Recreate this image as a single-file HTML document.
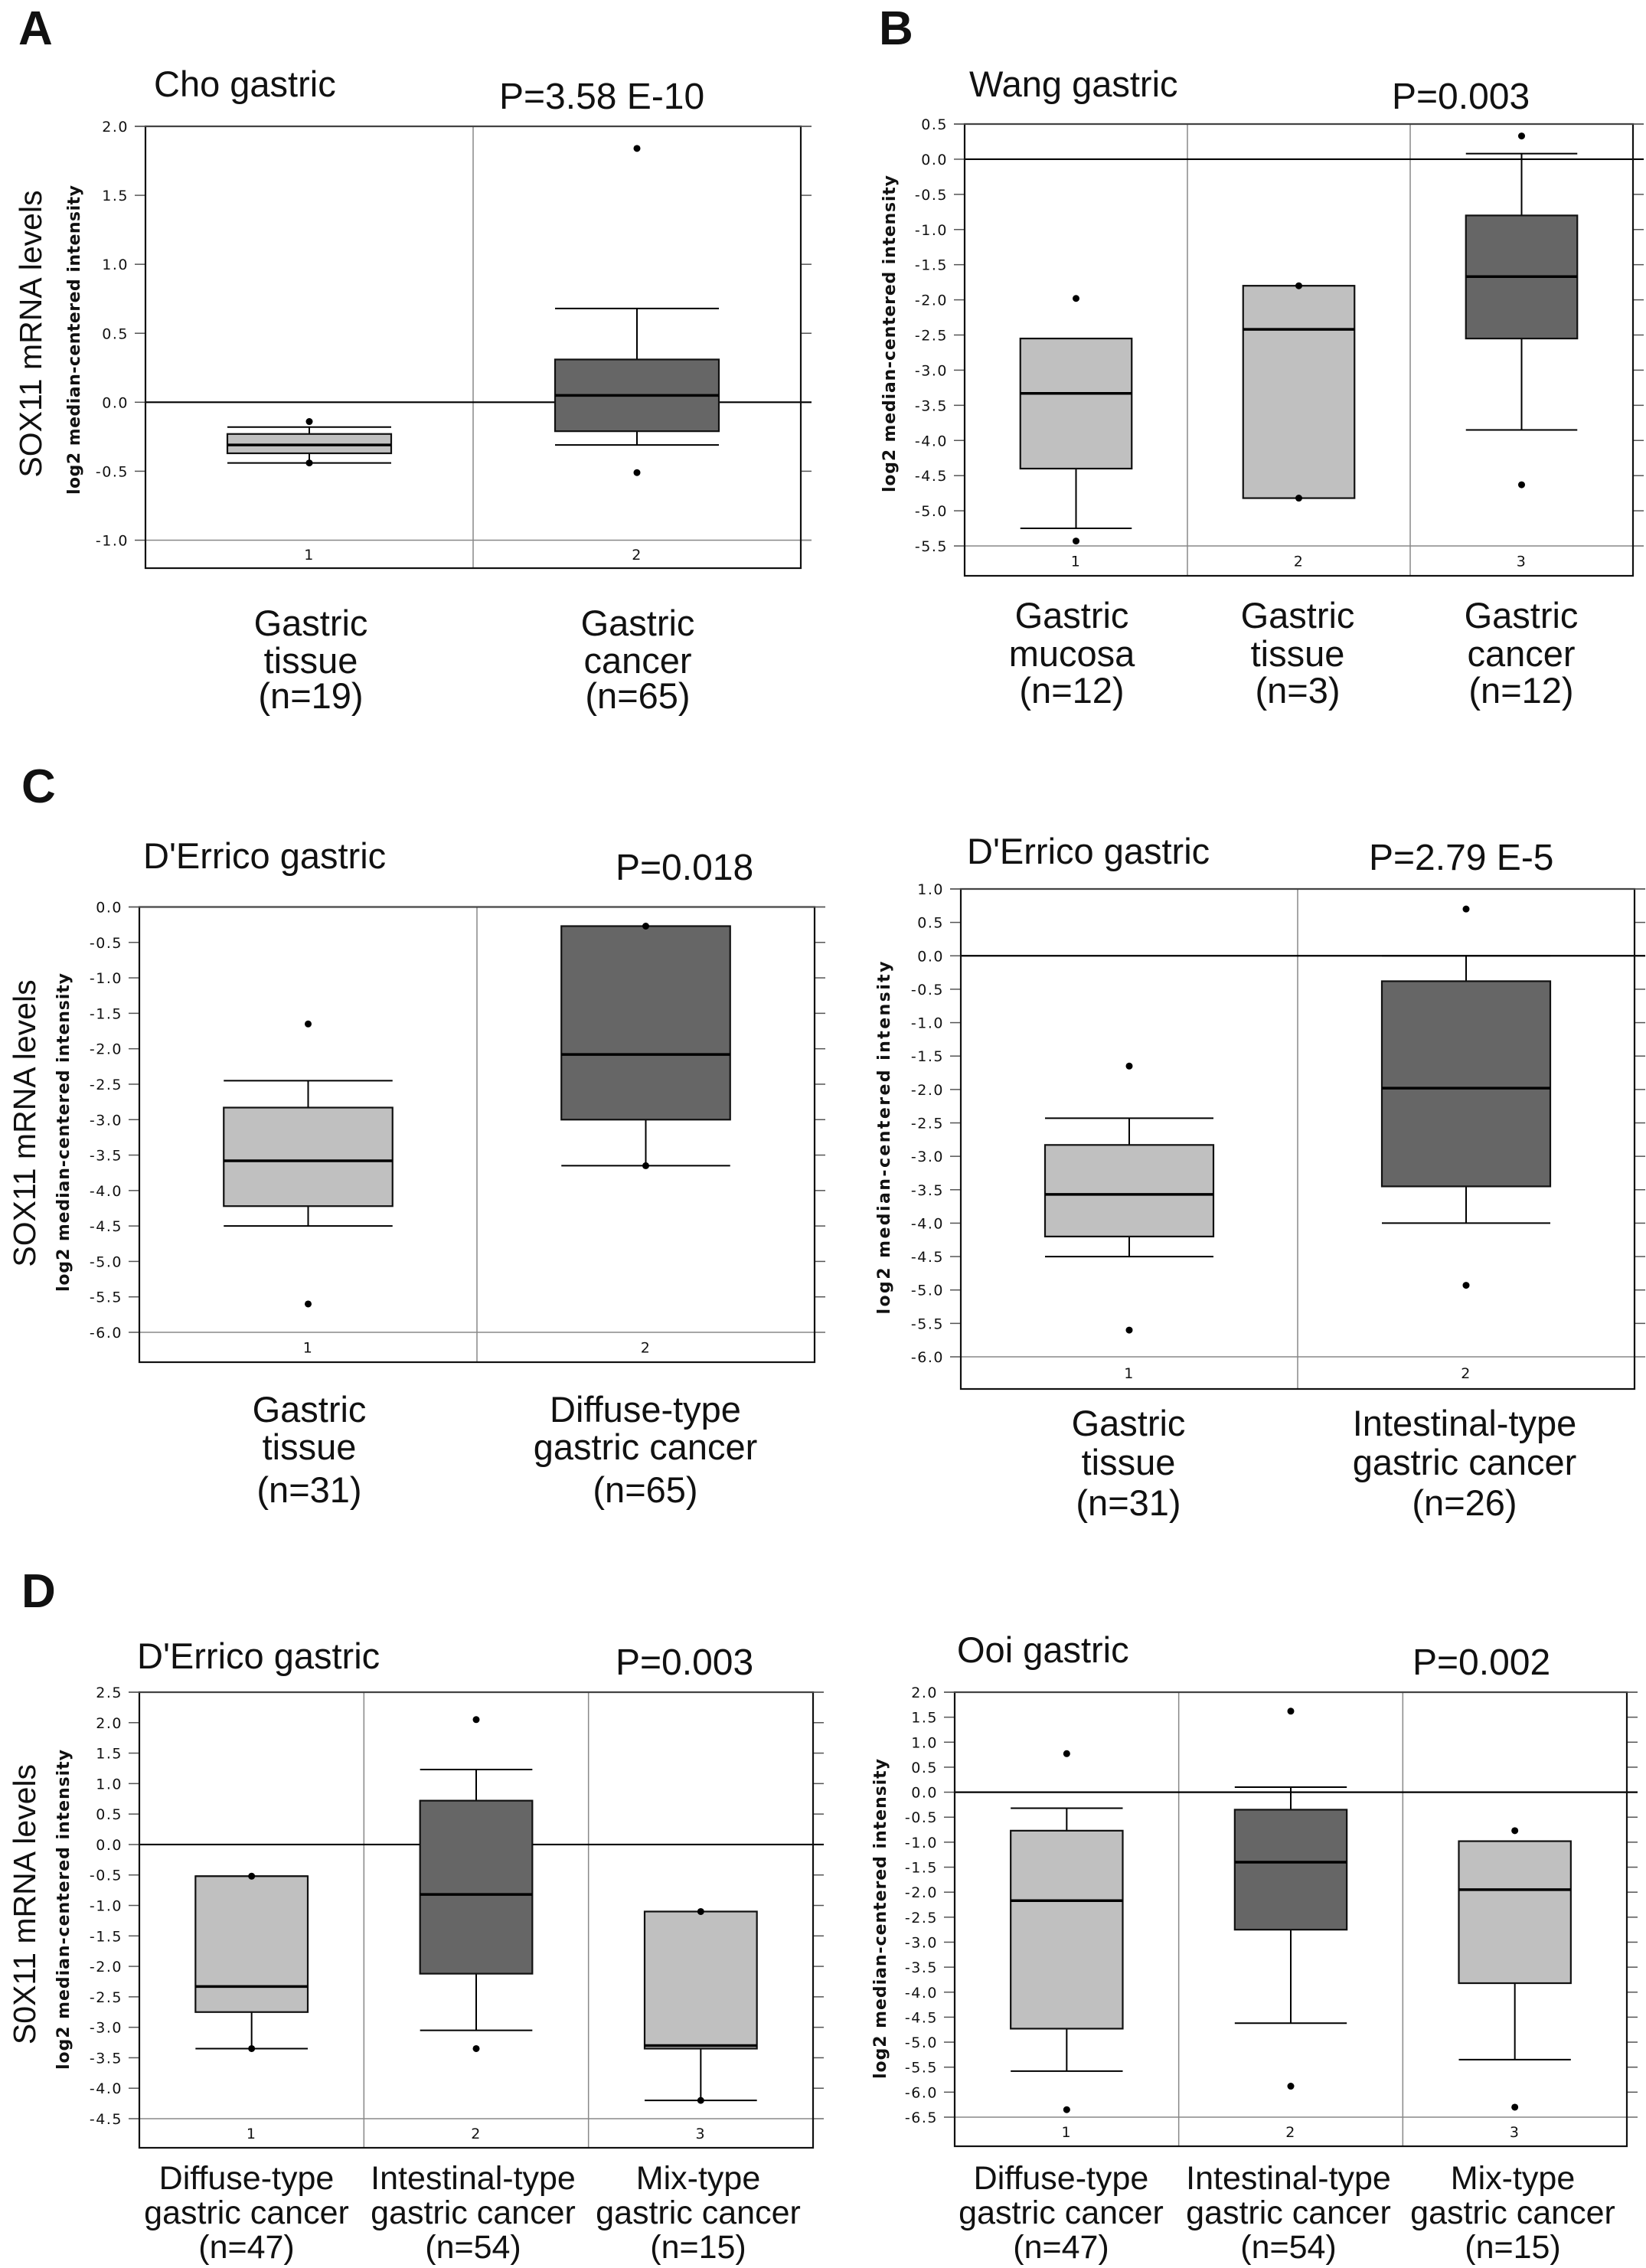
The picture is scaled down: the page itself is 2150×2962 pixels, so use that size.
<!DOCTYPE html>
<html><head><meta charset="utf-8"><style>
html,body{margin:0;padding:0;background:#fff}
svg{display:block}
.t{font-family:"Liberation Sans",Arial,sans-serif;fill:#111}
.tk{font-family:"DejaVu Sans",sans-serif;font-size:19px;fill:#111;letter-spacing:1.5px}
.yl{font-family:"DejaVu Sans",sans-serif;font-size:22px;font-weight:bold;fill:#111}
</style></head><body>
<svg id="fig" width="2150" height="2962" viewBox="0 0 2150 2962" xmlns="http://www.w3.org/2000/svg">
<rect width="2150" height="2962" fill="#fff"/>
<text class="t" x="24" y="58" font-size="62" font-weight="bold">A</text>
<text class="t" x="1148" y="58" font-size="62" font-weight="bold">B</text>
<text class="t" x="28" y="1048" font-size="62" font-weight="bold">C</text>
<text class="t" x="28" y="2099" font-size="62" font-weight="bold">D</text>

<text class="t" x="201" y="126" font-size="47">Cho gastric</text>
<text class="t" x="652" y="142" font-size="48">P=3.58 E-10</text>
<text class="t" transform="translate(54,436) rotate(-90)" text-anchor="middle" font-size="41">SOX11 mRNA levels</text>
<text class="yl" transform="translate(104,444) rotate(-90)" text-anchor="middle" textLength="404">log2 median-centered intensity</text>
<g class="t" font-size="47" text-anchor="middle">
<text x="406" y="830">Gastric</text><text x="406" y="879">tissue</text><text x="406" y="925">(n=19)</text>
<text x="833" y="830">Gastric</text><text x="833" y="879">cancer</text><text x="833" y="925">(n=65)</text>
</g>

<text class="t" x="1266" y="126" font-size="47">Wang gastric</text>
<text class="t" x="1818" y="142" font-size="48">P=0.003</text>
<text class="yl" transform="translate(1169,436) rotate(-90)" text-anchor="middle" textLength="414">log2 median-centered intensity</text>
<g class="t" font-size="47" text-anchor="middle">
<text x="1400" y="820">Gastric</text><text x="1400" y="870">mucosa</text><text x="1400" y="918">(n=12)</text>
<text x="1695" y="820">Gastric</text><text x="1695" y="870">tissue</text><text x="1695" y="918">(n=3)</text>
<text x="1987" y="820">Gastric</text><text x="1987" y="870">cancer</text><text x="1987" y="918">(n=12)</text>
</g>

<text class="t" x="187" y="1134" font-size="47">D'Errico gastric</text>
<text class="t" x="804" y="1149" font-size="48">P=0.018</text>
<text class="t" transform="translate(46,1467) rotate(-90)" text-anchor="middle" font-size="41">SOX11 mRNA levels</text>
<text class="yl" transform="translate(90,1479) rotate(-90)" text-anchor="middle" textLength="416">log2 median-centered intensity</text>
<g class="t" font-size="47" text-anchor="middle">
<text x="404" y="1857">Gastric</text><text x="404" y="1906">tissue</text><text x="404" y="1962">(n=31)</text>
<text x="843" y="1857">Diffuse-type</text><text x="843" y="1906">gastric cancer</text><text x="843" y="1962">(n=65)</text>
</g>

<text class="t" x="1263" y="1128" font-size="47">D'Errico gastric</text>
<text class="t" x="1788" y="1136" font-size="48">P=2.79 E-5</text>
<text class="yl" transform="translate(1162,1486) rotate(-90)" text-anchor="middle" textLength="461">log2 median-centered intensity</text>
<g class="t" font-size="47" text-anchor="middle">
<text x="1474" y="1875">Gastric</text><text x="1474" y="1926">tissue</text><text x="1474" y="1979">(n=31)</text>
<text x="1913" y="1875">Intestinal-type</text><text x="1913" y="1926">gastric cancer</text><text x="1913" y="1979">(n=26)</text>
</g>

<text class="t" x="179" y="2179" font-size="47">D'Errico gastric</text>
<text class="t" x="804" y="2187" font-size="48">P=0.003</text>
<text class="t" transform="translate(46,2487) rotate(-90)" text-anchor="middle" font-size="41">S0X11 mRNA levels</text>
<text class="yl" transform="translate(90,2494) rotate(-90)" text-anchor="middle" textLength="418">log2 median-centered intensity</text>
<g class="t" font-size="43" text-anchor="middle">
<text x="322" y="2859">Diffuse-type</text><text x="322" y="2904">gastric cancer</text><text x="322" y="2949">(n=47)</text>
<text x="618" y="2859">Intestinal-type</text><text x="618" y="2904">gastric cancer</text><text x="618" y="2949">(n=54)</text>
<text x="912" y="2859">Mix-type</text><text x="912" y="2904">gastric cancer</text><text x="912" y="2949">(n=15)</text>
</g>

<text class="t" x="1250" y="2171" font-size="47">Ooi gastric</text>
<text class="t" x="1845" y="2187" font-size="48">P=0.002</text>
<text class="yl" transform="translate(1157,2506) rotate(-90)" text-anchor="middle" textLength="418">log2 median-centered intensity</text>
<g class="t" font-size="43" text-anchor="middle">
<text x="1386" y="2859">Diffuse-type</text><text x="1386" y="2904">gastric cancer</text><text x="1386" y="2949">(n=47)</text>
<text x="1683" y="2859">Intestinal-type</text><text x="1683" y="2904">gastric cancer</text><text x="1683" y="2949">(n=54)</text>
<text x="1976" y="2859">Mix-type</text><text x="1976" y="2904">gastric cancer</text><text x="1976" y="2949">(n=15)</text>
</g>
</svg>
<script>
const aCategories=["1","2"];
const aQ1=[-0.37,-0.21];
const aQ3=[-0.23,0.31];
const aMedian=[-0.31,0.05];
const aWhiskerLo=[-0.44,-0.31];
const aWhiskerHi=[-0.18,0.68];
const aOutliers=[[-0.14,-0.44],[1.84,-0.51]];
const aDark=[false,true];
const aTicks=["2.0","1.5","1.0","0.5","0.0","-0.5","-1.0"];
const bCategories=["1","2","3"];
const bQ1=[-4.40,-4.82,-2.55];
const bQ3=[-2.55,-1.80,-0.80];
const bMedian=[-3.33,-2.42,-1.67];
const bWhiskerLo=[-5.25,-4.82,-3.85];
const bWhiskerHi=[-2.55,-1.80,0.08];
const bOutliers=[[-1.98,-5.43],[-1.80,-4.82],[0.33,-4.63]];
const bDark=[false,false,true];
const bTicks=["0.5","0.0","-0.5","-1.0","-1.5","-2.0","-2.5","-3.0","-3.5","-4.0","-4.5","-5.0","-5.5"];
const c1Categories=["1","2"];
const c1Q1=[-4.22,-3.00];
const c1Q3=[-2.83,-0.27];
const c1Median=[-3.58,-2.08];
const c1WhiskerLo=[-4.50,-3.65];
const c1WhiskerHi=[-2.45,-0.27];
const c1Outliers=[[-1.65,-5.60],[-0.27,-3.65]];
const c1Dark=[false,true];
const c1Ticks=["0.0","-0.5","-1.0","-1.5","-2.0","-2.5","-3.0","-3.5","-4.0","-4.5","-5.0","-5.5","-6.0"];
const c2Categories=["1","2"];
const c2Q1=[-4.20,-3.45];
const c2Q3=[-2.83,-0.38];
const c2Median=[-3.57,-1.98];
const c2WhiskerLo=[-4.50,-4.00];
const c2WhiskerHi=[-2.43,0.00];
const c2Outliers=[[-1.65,-5.60],[0.70,-4.93]];
const c2Dark=[false,true];
const c2Ticks=["1.0","0.5","0.0","-0.5","-1.0","-1.5","-2.0","-2.5","-3.0","-3.5","-4.0","-4.5","-5.0","-5.5","-6.0"];
const d1Categories=["1","2","3"];
const d1Q1=[-2.75,-2.12,-3.35];
const d1Q3=[-0.52,0.72,-1.10];
const d1Median=[-2.33,-0.82,-3.30];
const d1WhiskerLo=[-3.35,-3.05,-4.20];
const d1WhiskerHi=[-0.52,1.23,-1.10];
const d1Outliers=[[-0.52,-3.35],[2.05,-3.35],[-1.10,-4.20]];
const d1Dark=[false,true,false];
const d1Ticks=["2.5","2.0","1.5","1.0","0.5","0.0","-0.5","-1.0","-1.5","-2.0","-2.5","-3.0","-3.5","-4.0","-4.5"];
const d2Categories=["1","2","3"];
const d2Q1=[-4.73,-2.75,-3.82];
const d2Q3=[-0.77,-0.35,-0.98];
const d2Median=[-2.17,-1.40,-1.95];
const d2WhiskerLo=[-5.58,-4.62,-5.35];
const d2WhiskerHi=[-0.32,0.10,-0.98];
const d2Outliers=[[0.77,-6.35],[1.62,-5.88],[-0.77,-6.30]];
const d2Dark=[false,true,false];
const d2Ticks=["2.0","1.5","1.0","0.5","0.0","-0.5","-1.0","-1.5","-2.0","-2.5","-3.0","-3.5","-4.0","-4.5","-5.0","-5.5","-6.0","-6.5"];

const NS="http://www.w3.org/2000/svg";
const svg=document.getElementById('fig');
function mk(tag,attrs,parent){const e=document.createElementNS(NS,tag);for(const k in attrs)e.setAttribute(k,attrs[k]);(parent||svg).appendChild(e);return e;}

function panel(id,frame,cats,q1,q3,med,wlo,whi,outs,dark,ticks){
  const g=mk('g',{});
  
  
  const vTop=parseFloat(ticks[0]), vBot=parseFloat(ticks[ticks.length-1]);
  const y=v=>frame.yTop+(vTop-v)/(vTop-vBot)*(frame.yBot-frame.yTop);
  const n=cats.length, w=(frame.x1-frame.x0)/n;
  const cx=i=>frame.x0+(i+0.5)*w;
  const hw=w*0.25;
  ticks.forEach(t=>{
    const v=parseFloat(t), yy=y(v);
    const tl=mk('line',{x1:frame.x0-14,x2:frame.x0,y1:yy,y2:yy,stroke:'#555','stroke-width':1.5},g);
    
    
    const tr=mk('line',{x1:frame.x1,x2:frame.x1+14,y1:yy,y2:yy,stroke:'#555','stroke-width':1.5},g);
    
    
    const tx=mk('text',{x:frame.x0-22,y:yy+7,'text-anchor':'end','class':'tk'},g);
    tx.textContent=t;
    
    
  });
  const bl=mk('line',{x1:frame.x0,x2:frame.x1+14,y1:y(vBot),y2:y(vBot),stroke:'#888','stroke-width':1.5},g);
  
  
  for(let i=1;i<n;i++){
    const s=mk('line',{x1:frame.x0+i*w,x2:frame.x0+i*w,y1:frame.y0,y2:frame.y1,stroke:'#888','stroke-width':1.5},g);
    
    
  }
  if(vTop>0 && vBot<0){
    const z=mk('line',{x1:frame.x0,x2:frame.x1+14,y1:y(0),y2:y(0),stroke:'#000','stroke-width':2.2},g);
    
    
  }
  cats.forEach((c,i)=>{
    const x=cx(i);
    const bg=mk('g',{},g);
    
    
    mk('line',{x1:x,x2:x,y1:y(q3[i]),y2:y(whi[i]),stroke:'#000','stroke-width':2},bg);
    mk('line',{x1:x,x2:x,y1:y(q1[i]),y2:y(wlo[i]),stroke:'#000','stroke-width':2},bg);
    mk('line',{x1:x-hw,x2:x+hw,y1:y(whi[i]),y2:y(whi[i]),stroke:'#000','stroke-width':2},bg);
    mk('line',{x1:x-hw,x2:x+hw,y1:y(wlo[i]),y2:y(wlo[i]),stroke:'#000','stroke-width':2},bg);
    mk('rect',{x:x-hw,y:y(q3[i]),width:2*hw,height:Math.max(1,y(q1[i])-y(q3[i])),fill:dark[i]?'#666':'#c0c0c0',stroke:'#111','stroke-width':2.2},bg);
    mk('line',{x1:x-hw,x2:x+hw,y1:y(med[i]),y2:y(med[i]),stroke:'#000','stroke-width':3.5},bg);
    outs[i].forEach(o=>{
      const d=mk('circle',{cx:x,cy:y(o),r:4.5,fill:'#000'},g);
      
      
    });
    const nl=mk('text',{x:x,y:(y(vBot)+frame.y1)/2+7,'text-anchor':'middle','class':'tk'},g);
    nl.textContent=c;
    
    
  });
  const fr=mk('rect',{x:frame.x0,y:frame.y0,width:frame.x1-frame.x0,height:frame.y1-frame.y0,fill:'none',stroke:'#111','stroke-width':2.2},g);
  
  
  const tt=mk('line',{x1:frame.x0-14,x2:frame.x1+14,y1:frame.y0,y2:frame.y0,stroke:'#555','stroke-width':1.5},g);
  
  
}
panel('a',{x0:190,x1:1046,y0:165,y1:742,yTop:165,yBot:705.5},aCategories,aQ1,aQ3,aMedian,aWhiskerLo,aWhiskerHi,aOutliers,aDark,aTicks);
panel('b',{x0:1260,x1:2133,y0:162,y1:752,yTop:162,yBot:713},bCategories,bQ1,bQ3,bMedian,bWhiskerLo,bWhiskerHi,bOutliers,bDark,bTicks);
panel('c1',{x0:182,x1:1064,y0:1184.5,y1:1779,yTop:1184.5,yBot:1740},c1Categories,c1Q1,c1Q3,c1Median,c1WhiskerLo,c1WhiskerHi,c1Outliers,c1Dark,c1Ticks);
panel('c2',{x0:1255,x1:2135,y0:1161,y1:1814,yTop:1161,yBot:1772},c2Categories,c2Q1,c2Q3,c2Median,c2WhiskerLo,c2WhiskerHi,c2Outliers,c2Dark,c2Ticks);
panel('d1',{x0:182,x1:1062,y0:2210,y1:2805,yTop:2210,yBot:2767},d1Categories,d1Q1,d1Q3,d1Median,d1WhiskerLo,d1WhiskerHi,d1Outliers,d1Dark,d1Ticks);
panel('d2',{x0:1247,x1:2125,y0:2210,y1:2803,yTop:2210,yBot:2765},d2Categories,d2Q1,d2Q3,d2Median,d2WhiskerLo,d2WhiskerHi,d2Outliers,d2Dark,d2Ticks);
</script>
</body></html>
